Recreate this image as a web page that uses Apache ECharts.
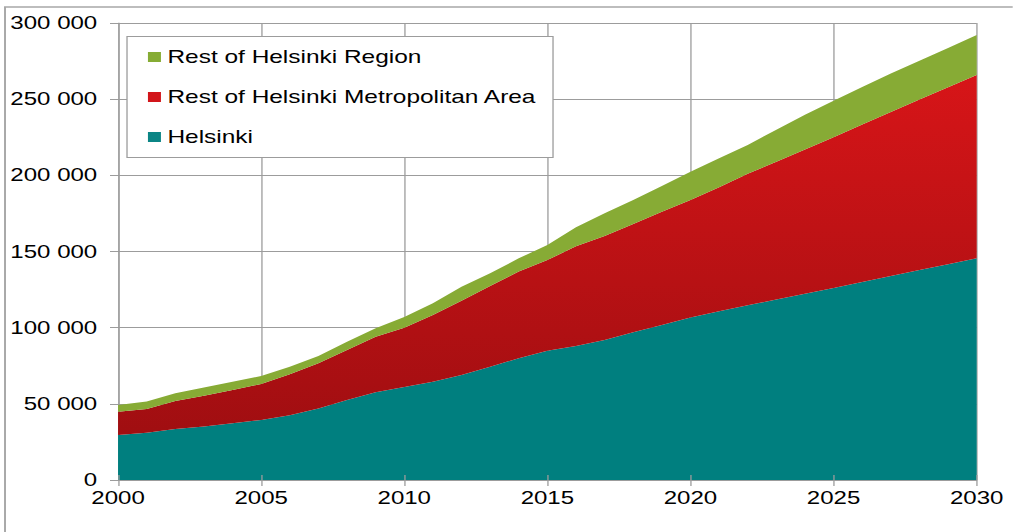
<!DOCTYPE html>
<html>
<head>
<meta charset="utf-8">
<script src="https://cdn.jsdelivr.net/npm/echarts@6/dist/echarts.min.js"></script>
<style>
  html, body { margin: 0; padding: 0; background: #fff; overflow: hidden; }
  /* source image is stretched horizontally, so draw narrower and scale */
  #chart { width: 779.2px; height: 532px; transform: scaleX(1.3); transform-origin: 0 0; }
</style>
</head>
<body>
<div id="chart"></div>
<script>
const years = [];
for (let y = 2000; y <= 2030; y++) years.push(String(y));

const helsinki = [29500, 31000, 33500, 35200, 37200, 39400, 42500, 47000, 52500, 57600,
  61000, 64500, 68900, 74400, 79900, 84900, 88000, 91900, 97000, 101800,
  106600, 110800, 114700, 118500, 122300, 126100, 130000, 133900, 137800, 141600, 145500];
const restMetro = [15300, 15600, 18300, 20100, 21900, 23600, 26900, 29600, 32800, 36500,
  39000, 43800, 48800, 53000, 56900, 59500, 65400, 68300, 71100, 74300,
  77200, 81400, 86300, 90400, 94600, 98900, 103300, 107600, 111900, 116200, 120400];
const restRegion = [4400, 5000, 5100, 5500, 5400, 5300, 5000, 4800, 5500, 5500,
  7000, 7700, 9200, 8300, 8700, 9900, 12600, 14900, 15700, 16900,
  18600, 19000, 18900, 21100, 22900, 24000, 24700, 25300, 25600, 25800, 26200];

const legendNames = ['Rest of Helsinki Region', 'Rest of Helsinki Metropolitan Area', 'Helsinki'];

const fmt = v => String(v).replace(/\B(?=(\d{3})+(?!\d))/g, ' ');
const FONT = 'Liberation Sans, Arial, sans-serif';
const gridColor = '#9c9c9c';

const chart = echarts.init(document.getElementById('chart'), null, { renderer: 'svg' });

const option = {
  animation: false,
  backgroundColor: '#fff',
  grid: { left: 90.8, right: 27.7, top: 23, bottom: 52, containLabel: false },
  legend: {
    data: legendNames,
    orient: 'vertical',
    left: 113.8,
    top: 47,
    padding: 0,
    itemGap: 20,
    itemWidth: 10,
    itemHeight: 10,
    itemStyle: { borderWidth: 0 },
    icon: 'rect',
    z: 10,
    textStyle: { color: '#000', fontSize: 18.8, fontFamily: FONT, lineHeight: 20 }
  },
  graphic: [
    {
      type: 'rect', z: 100, silent: true,
      shape: { x: 3.85, y: 7, width: 1000, height: 600 },
      style: { fill: 'none', stroke: '#a8a8a8', lineWidth: 1.5 }
    },
    {
      type: 'rect', z: 5, silent: true,
      shape: { x: 97.7, y: 36.5, width: 327.7, height: 121 },
      style: { fill: '#fff', stroke: gridColor, lineWidth: 1 }
    }
  ],
  xAxis: [
    {
      type: 'category',
      data: years,
      boundaryGap: false,
      axisLine: { lineStyle: { color: gridColor } },
      axisTick: { interval: 4, length: 6, lineStyle: { color: gridColor } },
      axisLabel: { interval: 4, margin: 8, color: '#000', fontSize: 18.5, fontFamily: FONT },
      splitLine: { show: true, interval: 4, lineStyle: { color: gridColor, width: 1 } }
    },
    {
      // second copy only for the inner half of the crossing ticks
      type: 'category',
      data: years,
      position: 'bottom',
      offset: 0,
      boundaryGap: false,
      z: 5,
      axisLine: { show: false },
      axisTick: { inside: true, interval: 4, length: 5, lineStyle: { color: gridColor } },
      axisLabel: { show: false },
      splitLine: { show: false }
    }
  ],
  yAxis: {
    type: 'value',
    min: 0,
    max: 300000,
    interval: 50000,
    axisLine: { show: true, lineStyle: { color: gridColor } },
    axisTick: { show: true, length: 6.2, lineStyle: { color: gridColor } },
    axisLabel: { margin: 16, color: '#000', fontSize: 18.5, fontFamily: FONT, formatter: fmt },
    splitLine: { show: true, lineStyle: { color: gridColor, width: 1 } }
  },
  series: [
    {
      name: 'Helsinki',
      type: 'line',
      stack: 'pop',
      data: helsinki,
      symbol: 'none',
      lineStyle: { width: 0 },
      itemStyle: { color: '#0b8585' },
      areaStyle: { color: '#007f7f', opacity: 1 }
    },
    {
      name: 'Rest of Helsinki Metropolitan Area',
      type: 'line',
      stack: 'pop',
      data: restMetro,
      symbol: 'none',
      lineStyle: { width: 0 },
      itemStyle: { color: '#d2151a' },
      areaStyle: {
        opacity: 1,
        color: new echarts.graphic.LinearGradient(0, 0, 0, 1, [
          { offset: 0, color: '#d71518' },
          { offset: 1, color: '#a00e11' }
        ])
      }
    },
    {
      name: 'Rest of Helsinki Region',
      type: 'line',
      stack: 'pop',
      data: restRegion,
      symbol: 'none',
      lineStyle: { width: 0 },
      itemStyle: { color: '#86ac34' },
      areaStyle: { color: '#87ab35', opacity: 1 }
    }
  ]
};

chart.setOption(option);
</script>
</body>
</html>
